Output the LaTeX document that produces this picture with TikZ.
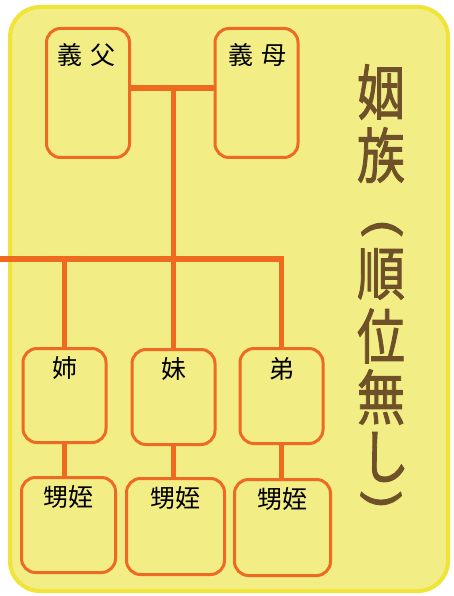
\documentclass[tikz,border=0pt]{standalone}
\usepackage{fontspec}
\newfontfamily\jp{Noto Sans CJK JP}
\newfontfamily\jpt[FakeBold=1.6]{Noto Sans CJK JP}
\definecolor{bgfill}{HTML}{F3ED85}
\definecolor{bgborder}{HTML}{EFE437}
\definecolor{linec}{HTML}{EE6A1E}
\definecolor{boxc}{HTML}{EE6A24}
\definecolor{titlec}{HTML}{6E5128}
\tikzset{
  famb/.style={draw=boxc, line width=3pt, rounded corners=14pt, minimum width=83pt, inner sep=0pt},
  conn/.style={draw=linec, line width=5.5pt},
  lbl/.style={font=\jp\fontsize{25}{25}\selectfont, inner sep=0pt, text=black},
  ttl/.style={font=\jpt\fontsize{48}{48}\selectfont, inner sep=0pt, text=titlec},
}
\begin{document}
\begin{tikzpicture}[x=1pt,y=-1pt]
\useasboundingbox (0,0) rectangle (453,596);
\fill[bgfill, draw=bgborder, line width=4pt, rounded corners=30pt] (10,7) rectangle (448,591);
% parents
\node[famb, minimum height=129pt] (gf) at (88,93) {};
\node[famb, minimum height=129pt] (gm) at (256.5,93) {};
\node[lbl] (gft) at (86,55) {義\hspace{8pt}父};
\node[lbl] (gmt) at (257,55) {義\hspace{8pt}母};
% siblings
\node[famb, minimum height=94pt] (s1) at (64.5,395.5) {};
\node[famb, minimum height=95pt] (s2) at (173.5,397) {};
\node[famb, minimum height=95pt] (s3) at (281.5,396) {};
\node[lbl] (s1t) at (64.5,368) {姉};
\node[lbl] (s2t) at (173.5,369) {妹};
\node[lbl] (s3t) at (281.5,369) {弟};
% nephews
\node[famb, minimum width=94pt, minimum height=95pt] (n1) at (68.5,525) {};
\node[famb, minimum width=98pt, minimum height=96pt] (n2) at (175.5,526.5) {};
\node[famb, minimum width=96pt, minimum height=96pt] (n3) at (282.5,527.5) {};
\node[lbl] (n1t) at (68.5,497) {甥姪};
\node[lbl] (n2t) at (175.5,498) {甥姪};
\node[lbl] (n3t) at (282.5,499) {甥姪};
% connectors
\coordinate (pl) at ([yshift=5pt]gf.east);
\coordinate (pr) at ([yshift=5pt]gm.west);
\draw[conn] (pl) -- (pr);
\coordinate (mid) at (s2.north |- pl);
\coordinate (barL) at (0,259);
\draw[conn] (mid) -- (s2.north);
\draw[conn] (barL) -| (s3.north);
\draw[conn] (s1.north) -- (s1.north |- barL);
\draw[conn] (s1.south) -- (s1.south |- n1.north);
\draw[conn] (s2.south) -- (s2.south |- n2.north);
\draw[conn] (s3.south) -- (s3.south |- n3.north);
% title
\node[ttl] (c1) at (381,92) {\scalebox{1}[1.25]{姻}};
\node[ttl] (c2) at (381,155) {\scalebox{1}[1.25]{族}};
\node[ttl] (c3) at (382,228) {\rotatebox{90}{\scalebox{1.3}[0.85]{)}}};
\node[ttl] (c4) at (381,274) {\scalebox{1}[1.2]{順}};
\node[ttl] (c5) at (381,336) {\scalebox{1}[1.25]{位}};
\node[ttl] (c6) at (381,397) {\scalebox{1}[1.25]{無}};
\node[ttl] (c7) at (385,457) {\scalebox{1}[1.25]{し}};
\node[ttl] (c8) at (381,500) {\rotatebox{-90}{\scalebox{1.3}[0.85]{)}}};
\end{tikzpicture}
\end{document}
